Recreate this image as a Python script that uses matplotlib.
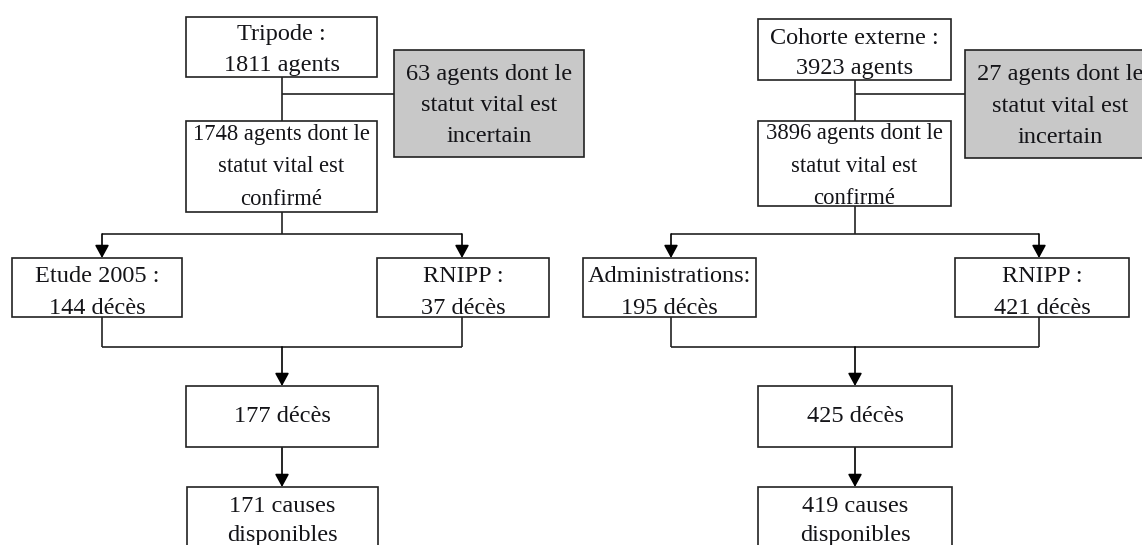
import matplotlib
matplotlib.use("Agg")
import matplotlib.pyplot as plt
from matplotlib.patches import Rectangle

# Flowchart contents (two cohorts)
cohorts = ["Tripode", "Cohorte externe"]
total_agents = [1811, 3923]
uncertain_agents = [63, 27]
confirmed_agents = [1748, 3896]
source_labels = [["Etude 2005 :", "RNIPP :"], ["Administrations:", "RNIPP :"]]
source_deaths = [[144, 37], [195, 421]]
total_deaths = [177, 425]
causes_available = [171, 419]

# Layout in pixels (x0, x1, y0, y1), y measured from the top
layout = [
    {
        "top": (186, 377, 17, 77),
        "gray": (394, 584, 50, 157),
        "confirmed": (186, 377, 121, 212),
        "sources": [(12, 182, 258, 317), (377, 549, 258, 317)],
        "arrow_x": [102, 462],
        "deaths": (186, 378, 386, 447),
        "causes": (187, 378, 487, 570),
        "cx": 282,
    },
    {
        "top": (758, 951, 19, 80),
        "gray": (965, 1155, 50, 158),
        "confirmed": (758, 951, 121, 206),
        "sources": [(583, 756, 258, 317), (955, 1129, 258, 317)],
        "arrow_x": [671, 1039],
        "deaths": (758, 952, 386, 447),
        "causes": (758, 952, 487, 570),
        "cx": 855,
    },
]

SIDE_Y = 94
BRANCH_Y = 234
MERGE_Y = 347
FONT = "Liberation Serif"
FS = 17.5
LW = 1.2


def draw_box(ax, rect, text, face="white", text_y=None, fs=FS, ls=1.6):
    x0, x1, y0, y1 = rect
    ax.add_patch(Rectangle((x0, y0), x1 - x0, y1 - y0, facecolor=face,
                           edgecolor="#222222", lw=LW, zorder=2))
    ty = (y0 + y1) / 2 if text_y is None else text_y
    ax.text((x0 + x1) / 2, ty, text, ha="center", va="center",
            family=FONT, fontsize=fs, color="#141418", linespacing=ls,
            zorder=3)


def line(ax, xs, ys):
    ax.plot(xs, ys, color="#222222", lw=LW, solid_capstyle="butt", zorder=1)


def arrow(ax, x, y_start, y_end):
    ax.annotate("", xy=(x, y_end), xytext=(x, y_start),
                arrowprops=dict(arrowstyle="-|>,head_length=0.55,head_width=0.3",
                                color="black", lw=LW, mutation_scale=14,
                                shrinkA=0, shrinkB=0), zorder=1)


fig = plt.figure(figsize=(11.42, 5.45), dpi=100)
ax = fig.add_axes([0, 0, 1, 1])
ax.set_xlim(0, 1142)
ax.set_ylim(545, 0)
ax.axis("off")

for i, lay in enumerate(layout):
    cx = lay["cx"]
    top, gray, conf = lay["top"], lay["gray"], lay["confirmed"]

    draw_box(ax, top, f"{cohorts[i]} :\n{total_agents[i]} agents",
             text_y=(top[2] + top[3]) / 2 + 3 + i, ls=1.57)
    draw_box(ax, gray, f"{uncertain_agents[i]} agents dont le\nstatut vital est\nincertain",
             face="#c8c8c8", fs=17.6, ls=1.65, text_y=(gray[2] + gray[3]) / 2 + 2)
    draw_box(ax, conf, f"{confirmed_agents[i]} agents dont le\nstatut vital est\nconfirmé",
             fs=16.3, ls=1.7, text_y=conf[2] + 46 - i)

    # top box -> confirmed box, with side branch to the grey box
    line(ax, [cx, cx], [top[3], conf[2]])
    line(ax, [cx, gray[0]], [SIDE_Y, SIDE_Y])

    # split into the two sources
    line(ax, [cx, cx], [conf[3], BRANCH_Y])
    ax_l, ax_r = lay["arrow_x"]
    line(ax, [ax_l, ax_r], [BRANCH_Y, BRANCH_Y])
    for j, src in enumerate(lay["sources"]):
        arrow(ax, lay["arrow_x"][j], BRANCH_Y, src[2])
        draw_box(ax, src, f"{source_labels[i][j]}\n{source_deaths[i][j]} décès",
                 text_y=(src[2] + src[3]) / 2 + 5, ls=1.68)
        line(ax, [lay["arrow_x"][j]] * 2, [src[3], MERGE_Y])

    # merge
    line(ax, [ax_l, ax_r], [MERGE_Y, MERGE_Y])
    arrow(ax, cx, MERGE_Y, lay["deaths"][2])
    draw_box(ax, lay["deaths"], f"{total_deaths[i]} décès")
    arrow(ax, cx, lay["deaths"][3], lay["causes"][2])
    draw_box(ax, lay["causes"], f"{causes_available[i]} causes\ndisponibles",
             text_y=lay["causes"][2] + 34, ls=1.48)

fig.savefig("out.png", dpi=100)
